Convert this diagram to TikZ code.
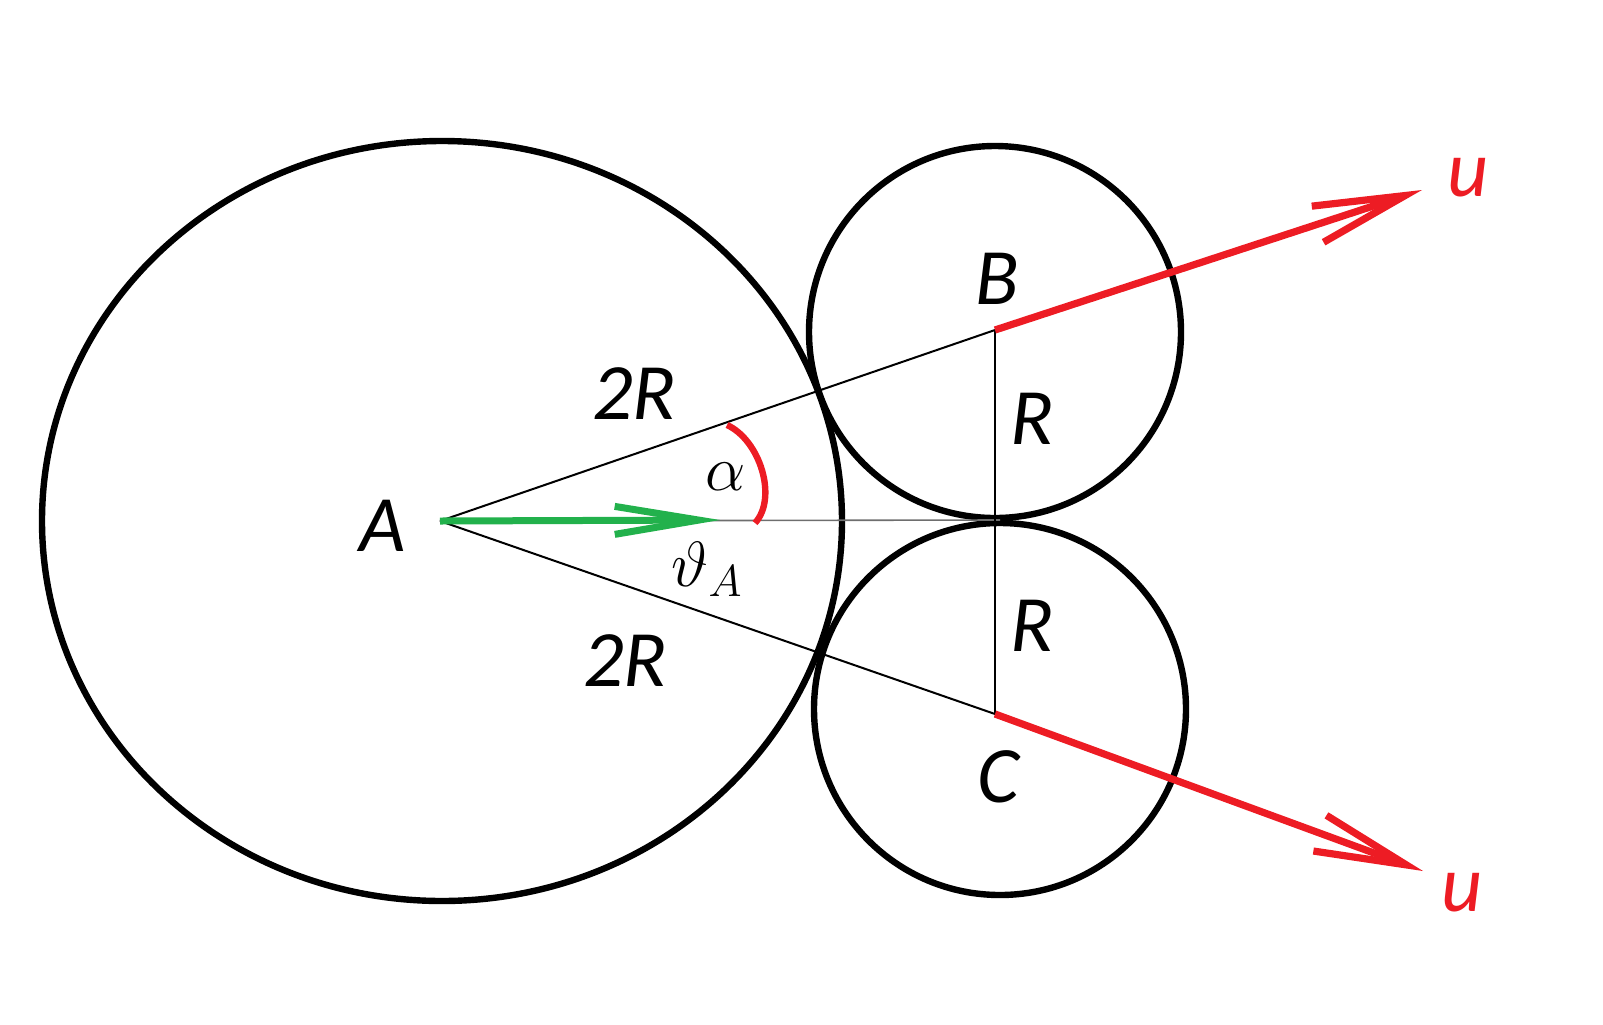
\RequirePackage{fix-cm}
\documentclass[tikz,border=0pt]{standalone}
\usepackage{fontspec}
\setmainfont{Carlito}
\usetikzlibrary{arrows.meta}
\definecolor{pred}{HTML}{ED1C24}
\definecolor{pgreen}{HTML}{22B14C}
\definecolor{pgray}{HTML}{6E6E6E}
\tikzset{
  ring/.style={draw=black, line width=3.2pt},
  thinline/.style={draw=black, line width=1pt},
  axisline/.style={draw=pgray, line width=0.8pt},
  redarrow/.style={draw=pred, line width=3.6pt, -{Straight Barb[length=46pt,width=19pt]}},
  greenarrow/.style={draw=pgreen, line width=3.5pt, -{Straight Barb[length=42pt,width=14pt]}},
  arcline/.style={draw=pred, line width=3.2pt},
  lbl/.style={inner sep=0pt, font=\fontsize{40}{48}\selectfont\itshape},
  ulbl/.style={lbl, text=pred},
  mlbl/.style={inner sep=0pt, font=\fontsize{32}{38}\selectfont},
}
\begin{document}
\begin{tikzpicture}[x=0.5pt,y=-0.5pt]
\useasboundingbox (0,0) rectangle (1603,1024);
% circles
\draw[ring] (442,521) ellipse [x radius=400, y radius=380];
\draw[ring] (995,332) circle [radius=186];
\draw[ring] (1000,709) circle [radius=186];
% points
\coordinate (A) at (440,521);
\coordinate (B) at (995,330);
\coordinate (C) at (995,714);
\coordinate (M) at (1000,520);
\coordinate (G) at (720,520);
\coordinate (UB) at (1422,190);
\coordinate (UC) at (1423,871);
\coordinate (arcS) at (727,425);
\coordinate (arcE) at (755,523);
% thin lines
\draw[axisline] (A) -- (M);
\draw[thinline] (A) -- (B);
\draw[thinline] (A) -- (C);
\draw[thinline] (B) -- (C);
% green arrow
\draw[greenarrow] (A) -- (G);
% red angle arc
\draw[arcline] (arcS) .. controls (760,440) and (778,498) .. (arcE);
% red arrows
\draw[redarrow] (B) -- (UB);
\draw[redarrow] (C) -- (UC);
% labels
\node[lbl] (tA) at (383,526) {A};
\node[lbl] (tB) at (997,279) {B};
\node[lbl] (tC) at (998,777) {C};
\node[lbl] (tR1) at (1032,419) {R};
\node[lbl] (tR2) at (1032,626) {R};
\node[lbl] (t2R1) at (634,394) {2R};
\node[lbl] (t2R2) at (625,661) {2R};
\node[ulbl] (tu1) at (1468,178) {u};
\node[ulbl] (tu2) at (1462,893) {u};
\node[mlbl] (talpha) at (726,477) {$\alpha$};
\node[mlbl] (ttheta) at (707,569) {$\vartheta_A$};
\end{tikzpicture}
\end{document}
